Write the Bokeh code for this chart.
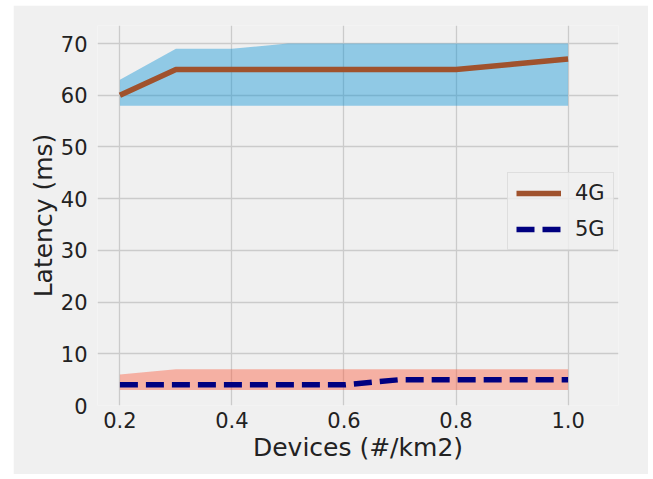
from bokeh.plotting import figure
from bokeh.embed import file_html
from bokeh.resources import INLINE
from bokeh.models import Range1d, Legend, SingleIntervalTicker, NumeralTickFormatter, Spacer
from bokeh.layouts import row, column

devices = [0.2, 0.3, 0.4, 0.5, 0.6, 0.7, 0.8, 0.9, 1.0]
lat_4g = [60, 65, 65, 65, 65, 65, 65, 66, 67]
lat_4g_low = [58, 58, 58, 58, 58, 58, 58, 58, 58]
lat_4g_high = [63, 69, 69, 70, 70, 70, 70, 70, 70]
lat_5g = [4, 4, 4, 4, 4, 5, 5, 5, 5]
lat_5g_low = [3, 3, 3, 3, 3, 3, 3, 3, 3]
lat_5g_high = [6, 7, 7, 7, 7, 7, 7, 7, 7]

BG = "#f0f0f0"
FONT = "DejaVu Sans"

p = figure(width=635, height=469, output_backend="svg", toolbar_location=None,
           x_range=Range1d(0.16, 1.09), y_range=Range1d(0, 73.5),
           background_fill_color=BG, border_fill_color=BG,
           min_border_left=84, min_border_right=30, min_border_top=20, min_border_bottom=69)
p.outline_line_color = None

p.varea(x=devices, y1=lat_4g_low, y2=lat_4g_high, fill_color="#008fd5", fill_alpha=0.4)
p.varea(x=devices, y1=lat_5g_low, y2=lat_5g_high, fill_color="#fc4f30", fill_alpha=0.4)
r4 = p.line(devices, lat_4g, line_color="#a0522d", line_width=5.5)
r5 = p.line(devices, lat_5g, line_color="#000080", line_width=5.5, line_dash="18 8")

p.xaxis.ticker = SingleIntervalTicker(interval=0.2)
p.yaxis.ticker = SingleIntervalTicker(interval=10)
p.xaxis.formatter = NumeralTickFormatter(format="0.0")
for ax in (p.xaxis[0], p.yaxis[0]):
    ax.axis_line_color = None
    ax.major_tick_line_color = None
    ax.minor_tick_line_color = None
    ax.major_label_text_font = FONT
    ax.major_label_text_font_size = "21px"
    ax.major_label_text_color = "#222222"
    ax.axis_label_text_font = FONT
    ax.axis_label_text_font_size = "25px"
    ax.axis_label_text_font_style = "normal"
    ax.axis_label_text_color = "#222222"
p.xaxis.axis_label = "Devices (#/km2)"
p.yaxis.axis_label = "Latency (ms)"
p.xaxis.major_label_standoff = 0
p.yaxis.major_label_standoff = 4
p.xaxis.axis_label_standoff = 2
p.yaxis.axis_label_standoff = 0

p.xgrid.grid_line_color = "#cbcbcb"
p.ygrid.grid_line_color = "#cbcbcb"
p.xgrid.grid_line_width = 1.3
p.ygrid.grid_line_width = 1.3

legend = Legend(items=[("4G", [r4]), ("5G", [r5])], location=(410, 155),
                background_fill_color=BG, background_fill_alpha=0.8,
                border_line_color="#cccccc", border_line_width=1,
                label_text_font=FONT, label_text_font_size="21px", label_text_color="#222222",
                glyph_width=45, glyph_height=20, label_height=20, spacing=12, padding=8, margin=0,
                label_standoff=14)
p.add_layout(legend, "center")

layout = row(Spacer(width=13), column(Spacer(height=5), p))
open("out.html", "w").write(file_html(layout, INLINE))
